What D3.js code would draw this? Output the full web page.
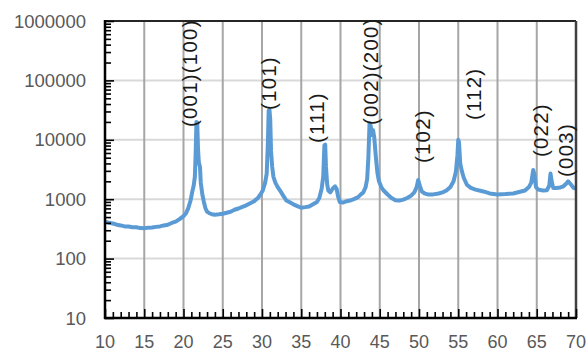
<!DOCTYPE html>
<html>
<head>
<meta charset="utf-8">
<script src="https://cdn.jsdelivr.net/npm/d3@7/dist/d3.min.js"></script>
<style>
html,body{margin:0;padding:0;background:#fff;}
svg{display:block;}
</style>
</head>
<body>
<svg id="chart" width="587" height="353"></svg>
<script>
// ---- data ----
const twoTheta = [
10.0,10.5,11.0,11.5,12.0,12.5,13.0,13.5,14.0,14.5,15.0,15.5,16.0,16.5,17.0,17.5,18.0,18.5,19.0,19.5,
20.0,20.3,20.6,20.9,21.1,21.3,21.45,21.55,21.65,21.75,21.85,21.95,22.1,22.2,22.4,22.6,22.8,23.0,23.3,23.6,
24.0,24.5,25.0,25.5,26.0,26.5,27.0,27.5,28.0,28.5,29.0,29.5,29.8,30.1,30.4,30.6,30.75,30.85,30.95,31.05,
31.15,31.3,31.45,31.7,32.0,32.3,32.7,33.1,33.6,34.0,34.5,35.0,35.5,36.0,36.5,37.0,37.3,37.6,37.8,37.95,
38.05,38.15,38.3,38.45,38.7,39.0,39.3,39.5,39.7,39.9,40.3,40.8,41.2,41.7,42.2,42.6,42.9,43.2,43.4,43.55,
43.7,43.85,44.0,44.15,44.3,44.5,44.7,44.9,45.2,45.5,46.0,46.5,47.0,47.5,48.0,48.5,49.0,49.4,49.7,49.9,
50.1,50.35,50.7,51.2,51.8,52.5,53.0,53.5,54.0,54.4,54.7,54.9,55.0,55.1,55.25,55.45,55.7,56.1,56.6,57.2,
58.2,59.0,60.0,61.0,62.0,63.0,63.5,64.0,64.3,64.55,64.7,64.9,65.2,65.8,66.3,66.6,66.75,66.9,67.1,67.5,
68.0,68.4,68.8,69.0,69.3,69.7,70.0
];
const intensity = [
420,400,390,372,362,348,346,336,338,326,325,332,334,342,348,362,372,398,418,462,
520,575,700,950,1300,1700,2400,6000,20000,19500,7000,4200,3500,1900,1200,900,700,620,580,560,
548,556,568,592,616,664,698,745,788,856,925,1060,1200,1400,1900,2700,9000,31000,32000,22000,
6500,3500,2400,1900,1600,1400,1150,950,880,818,765,718,735,755,825,900,1050,1500,2400,8000,
8300,3500,1800,1400,1300,1500,1650,1500,1100,900,878,925,948,1005,1075,1205,1300,1600,2200,5000,
19000,17000,12000,14500,11000,5200,2800,2000,1600,1400,1200,1050,960,948,985,1048,1150,1300,1600,2100,
1700,1350,1250,1195,1205,1248,1305,1400,1600,2000,2900,5500,10000,9000,4000,3000,2300,1750,1550,1450,
1350,1250,1200,1220,1250,1350,1400,1600,1900,3100,2600,1600,1450,1400,1420,1700,2700,2000,1550,1550,
1580,1650,1850,2000,1800,1550,1500
];
const xTickLabels = [10,15,20,25,30,35,40,45,50,55,60,65,70];
const yTickLabels = [10,100,1000,10000,100000,1000000];
const peakLabels = ["(001)(100)","(101)","(111)","(002)(200)","(102)","(112)","(022)","(003)"];
const peakLabelX = [20.75,30.8,37.0,43.8,50.5,56.9,65.5,68.6];
const peakLabelY = [16400,31800,8840,17700,4060,21500,5130,2370];

// ---- layout ----
const svg = d3.select("#chart");
const L = 105, R = 576, T = 21, B = 318;
const x = d3.scaleLinear().domain([10,70]).range([L,R]);
const y = d3.scaleLog().domain([10,1e6]).range([B,T]);

// gridlines
svg.append("g").selectAll("line").data(yTickLabels.filter(v=>v>10 && v<1e6))
  .join("line")
  .attr("x1",L).attr("x2",R).attr("y1",d=>y(d)).attr("y2",d=>y(d))
  .attr("stroke","#d9d9d9").attr("stroke-width",2);
svg.append("g").selectAll("line").data(xTickLabels.filter(v=>v>10 && v<70))
  .join("line")
  .attr("x1",d=>x(d)).attr("x2",d=>x(d)).attr("y1",T).attr("y2",B)
  .attr("stroke","#a6a6a6").attr("stroke-width",2);

// data line
const pts = twoTheta.map((t,i)=>[t,intensity[i]]);
svg.append("path").datum(pts)
  .attr("fill","none").attr("stroke","#5b9bd5").attr("stroke-width",4)
  .attr("stroke-linejoin","round")
  .attr("d", d3.line().x(d=>x(d[0])).y(d=>y(d[1])));

// frame (top/right)
svg.append("line").attr("x1",L).attr("x2",R).attr("y1",T).attr("y2",T)
  .attr("stroke","#262626").attr("stroke-width",2);
svg.append("line").attr("x1",R).attr("x2",R).attr("y1",T).attr("y2",B)
  .attr("stroke","#404040").attr("stroke-width",2.5);

// y axis (ticks inside)
const yAxis = d3.axisRight(y)
  .tickValues(d3.range(1,6).flatMap(e=>d3.range(1,10).map(m=>m*Math.pow(10,e))).concat([1e6]))
  .tickSize(6).tickFormat("");
const gy = svg.append("g").attr("transform",`translate(${L},0)`).call(yAxis);
gy.selectAll(".tick line").attr("stroke","#000").attr("stroke-width",1.6)
  .attr("x2", d=> yTickLabels.includes(d) ? 9 : 6);
gy.select(".domain").remove();
svg.append("line").attr("x1",L).attr("x2",L).attr("y1",T-1).attr("y2",B+1)
  .attr("stroke","#000").attr("stroke-width",2.5);

// y tick labels
svg.append("g").selectAll("text").data(yTickLabels).join("text")
  .attr("x",86).attr("y",d=>y(d)).attr("dy","0.36em")
  .attr("text-anchor","end")
  .attr("font-family","Liberation Sans, Arial, sans-serif").attr("font-size",18.5)
  .attr("fill","#595959").text(d=>d);

// x axis (ticks inside)
const xAxis = d3.axisTop(x).tickValues(d3.range(10,71,1)).tickSize(6).tickFormat("");
const gx = svg.append("g").attr("transform",`translate(0,${B})`).call(xAxis);
gx.selectAll(".tick line").attr("stroke","#000").attr("stroke-width",1.6)
  .attr("y2", d=> d%5===0 ? -9 : -6);
gx.select(".domain").remove();
svg.append("line").attr("x1",L-1).attr("x2",R+1).attr("y1",B).attr("y2",B)
  .attr("stroke","#000").attr("stroke-width",2.5);

// x tick labels
svg.append("g").selectAll("text").data(xTickLabels).join("text")
  .attr("x",d=>x(d)).attr("y",348)
  .attr("text-anchor","middle")
  .attr("font-family","Liberation Sans, Arial, sans-serif").attr("font-size",18)
  .attr("fill","#595959").text(d=>d);

// peak labels (rotated)
svg.append("g").selectAll("text").data(peakLabels).join("text")
  .attr("transform",(d,i)=>`translate(${x(peakLabelX[i])},${y(peakLabelY[i])}) rotate(-90)`)
  .attr("text-anchor","start").attr("dominant-baseline","central")
  .attr("font-family","Liberation Sans, Arial, sans-serif").attr("font-size",20.5)
  .attr("letter-spacing",1.2)
  .attr("fill","#1a1a1a").text(d=>d);
</script>
</body>
</html>
